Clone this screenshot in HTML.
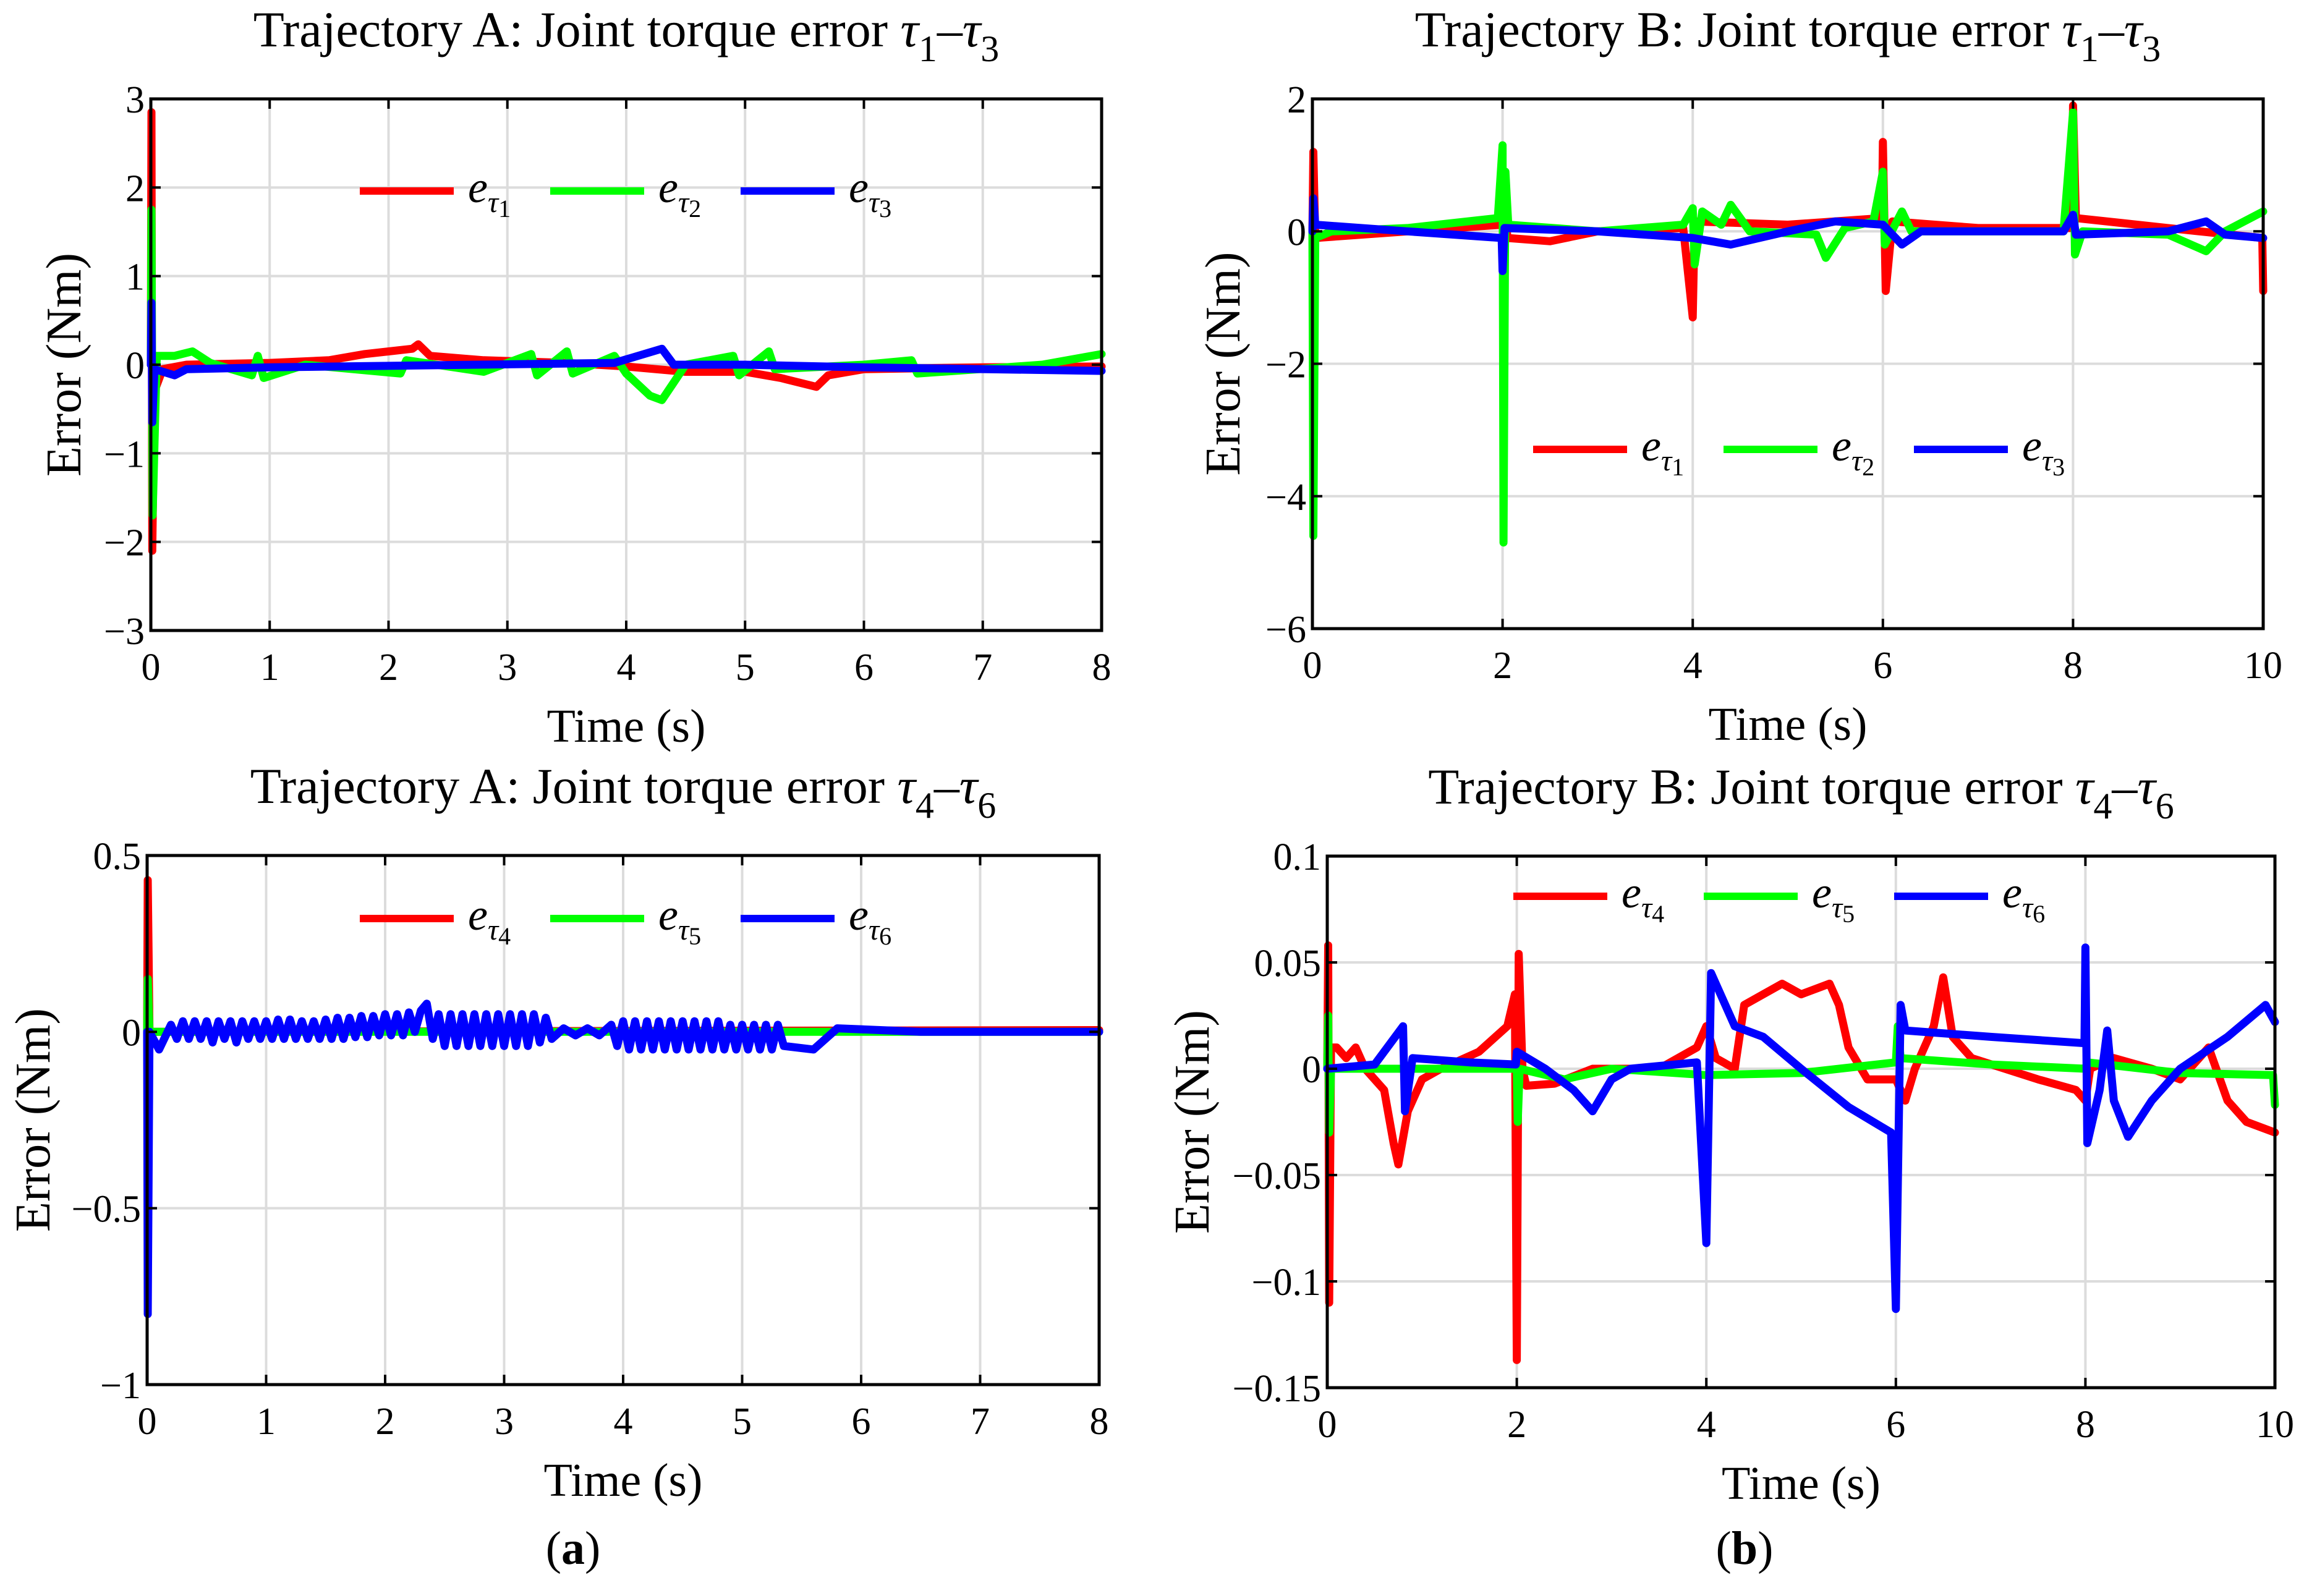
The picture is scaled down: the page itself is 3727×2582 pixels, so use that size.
<!DOCTYPE html>
<html><head><meta charset="utf-8"><style>
html,body{margin:0;padding:0;background:#fff;}
svg{display:block;font-family:"Liberation Serif",serif;}
</style></head><body>
<svg id="fig" width="3727" height="2582" viewBox="0 0 3727 2582" xmlns="http://www.w3.org/2000/svg"></svg>
<script>
// ---- data (time, value) per series ----
const a1Red=[[0,0],[0.005,2.85],[0.012,-2.1],[0.03,-0.3],[0.1,-0.05],[0.3,0],[1,0.02],[1.5,0.05],[1.8,0.12],[2.2,0.18],[2.25,0.23],[2.35,0.1],[2.8,0.05],[3.5,0.02],[4,-0.02],[4.5,-0.08],[5,-0.08],[5.3,-0.15],[5.6,-0.25],[5.7,-0.12],[6,-0.05],[7,-0.03],[8,-0.02]];
const a1Green=[[0,0],[0.005,1.75],[0.015,-1.7],[0.05,0.1],[0.2,0.1],[0.35,0.15],[0.5,0.02],[0.85,-0.12],[0.9,0.1],[0.95,-0.15],[1.3,0],[2.1,-0.1],[2.15,0.05],[2.8,-0.08],[3.2,0.12],[3.25,-0.12],[3.5,0.15],[3.55,-0.1],[3.9,0.1],[4.0,-0.1],[4.2,-0.35],[4.3,-0.4],[4.4,-0.2],[4.5,0],[4.9,0.1],[4.95,-0.12],[5.2,0.15],[5.25,-0.05],[6,0],[6.4,0.05],[6.45,-0.1],[7.5,0],[8,0.12]];
const a1Blue=[[0,0],[0.005,0.7],[0.012,-0.65],[0.03,-0.05],[0.2,-0.12],[0.3,-0.05],[1,-0.03],[3.9,0.02],[4.3,0.18],[4.4,0.0],[5,0.0],[6,-0.03],[8,-0.07]];
const b1Red=[[0,0],[0.01,1.2],[0.03,-0.1],[1,0],[2,0.1],[2.02,0.6],[2.05,-0.1],[2.5,-0.15],[3,0],[3.9,0.05],[4.0,-1.3],[4.02,0.15],[5,0.1],[5.99,0.2],[6.0,1.35],[6.03,-0.9],[6.1,0.15],[7,0.05],[7.99,0.05],[8.0,1.9],[8.03,0.2],[9,0.05],[9.99,-0.1],[10,-0.9]];
const b1Green=[[0,0],[0.01,-4.6],[0.03,-0.1],[0.2,0],[1,0.05],[1.95,0.2],[2.0,1.3],[2.01,-4.7],[2.03,0.9],[2.06,0.1],[3,0],[3.9,0.1],[4.0,0.35],[4.02,-0.5],[4.1,0.3],[4.3,0.1],[4.4,0.4],[4.6,0],[5.3,-0.05],[5.4,-0.4],[5.6,0.05],[5.9,0.15],[6.0,0.9],[6.02,-0.2],[6.2,0.3],[6.3,0],[7.9,0],[8.0,1.8],[8.02,-0.35],[8.1,0],[9,-0.05],[9.4,-0.3],[9.6,0],[10,0.3]];
const b1Blue=[[0,0],[0.01,0.5],[0.03,0.1],[1,0],[1.99,-0.1],[2.0,-0.6],[2.02,0.05],[3,0],[4,-0.1],[4.4,-0.2],[5,0],[5.5,0.15],[6,0.1],[6.2,-0.2],[6.4,0],[7.9,0],[8.0,0.25],[8.03,-0.05],[9,0],[9.4,0.15],[9.6,-0.05],[10,-0.1]];
const a2Red=[[0,0],[0.005,0.43],[0.02,0],[8,0.005]];
const a2Green=[[0,0],[0.005,0.15],[0.02,0],[8,0]];
const a2Blue=[[0,0],[0.005,-0.8],[0.02,0],[0.1,-0.05],[0.2,0.02],[0.25,-0.02],[0.3,0.03],[0.35,-0.02],[0.4,0.03],[0.45,-0.02],[0.5,0.03],[0.55,-0.03],[0.6,0.03],[0.65,-0.02],[0.7,0.03],[0.75,-0.03],[0.8,0.03],[0.85,-0.02],[0.9,0.03],[0.95,-0.02],[1.0,0.03],[1.05,-0.02],[1.1,0.035],[1.15,-0.02],[1.2,0.035],[1.25,-0.02],[1.3,0.03],[1.35,-0.02],[1.4,0.03],[1.45,-0.02],[1.5,0.035],[1.55,-0.02],[1.6,0.04],[1.65,-0.02],[1.7,0.04],[1.75,-0.015],[1.8,0.045],[1.85,-0.015],[1.9,0.045],[1.95,-0.01],[2.0,0.05],[2.05,-0.01],[2.1,0.05],[2.15,-0.01],[2.2,0.055],[2.25,0.0],[2.3,0.06],[2.35,0.08],[2.4,-0.02],[2.45,0.05],[2.5,-0.04],[2.55,0.05],[2.6,-0.04],[2.65,0.05],[2.7,-0.04],[2.75,0.05],[2.8,-0.04],[2.85,0.05],[2.9,-0.04],[2.95,0.05],[3.0,-0.04],[3.05,0.05],[3.1,-0.04],[3.15,0.05],[3.2,-0.04],[3.25,0.05],[3.3,-0.03],[3.35,0.04],[3.4,-0.02],[3.5,0.01],[3.6,-0.01],[3.7,0.01],[3.8,-0.01],[3.9,0.02],[3.95,-0.04],[4.0,0.03],[4.05,-0.05],[4.1,0.03],[4.15,-0.05],[4.2,0.03],[4.25,-0.05],[4.3,0.03],[4.35,-0.05],[4.4,0.03],[4.45,-0.05],[4.5,0.03],[4.55,-0.05],[4.6,0.03],[4.65,-0.05],[4.7,0.03],[4.75,-0.05],[4.8,0.03],[4.85,-0.05],[4.9,0.02],[4.95,-0.05],[5.0,0.02],[5.05,-0.05],[5.1,0.02],[5.15,-0.05],[5.2,0.02],[5.25,-0.05],[5.3,0.02],[5.35,-0.04],[5.6,-0.05],[5.8,0.01],[6.5,0],[8,0]];
const b2Red=[[0,0],[0.01,0.058],[0.02,-0.11],[0.04,0.01],[0.1,0.01],[0.2,0.005],[0.3,0.01],[0.4,0.0],[0.6,-0.01],[0.7,-0.035],[0.75,-0.045],[0.85,-0.02],[1,-0.005],[1.2,0],[1.6,0.008],[1.9,0.02],[1.98,0.035],[2.0,-0.137],[2.02,0.054],[2.06,0],[2.1,-0.008],[2.4,-0.007],[2.8,0],[3.5,0],[3.9,0.01],[4.0,0.02],[4.1,0.005],[4.3,0.0],[4.4,0.03],[4.6,0.035],[4.8,0.04],[5,0.035],[5.3,0.04],[5.4,0.03],[5.5,0.01],[5.7,-0.005],[6,-0.005],[6.1,-0.015],[6.2,0.0],[6.4,0.02],[6.5,0.043],[6.6,0.015],[6.8,0.005],[7.5,-0.005],[7.9,-0.01],[8.0,-0.015],[8.05,0],[8.3,0.005],[8.7,0.0],[9,-0.005],[9.3,0.01],[9.5,-0.015],[9.7,-0.025],[10,-0.03]];
const b2Green=[[0,0],[0.01,0.025],[0.02,-0.03],[0.04,0],[2,0],[2.01,-0.025],[2.03,0],[2.5,-0.005],[3,0],[4,-0.003],[5,-0.002],[6,0.003],[6.02,0.02],[6.05,0.005],[7,0.002],[8,0],[8.02,0.003],[9,-0.002],[9.98,-0.003],[10,-0.017]];
const b2Blue=[[0,0],[0.5,0.002],[0.8,0.02],[0.82,-0.02],[0.9,0.005],[1.5,0.003],[1.99,0.002],[2.0,0.008],[2.3,0.0],[2.6,-0.01],[2.8,-0.02],[3,-0.005],[3.2,0],[3.9,0.003],[4.0,-0.082],[4.05,0.045],[4.1,0.04],[4.3,0.02],[4.6,0.015],[5,0],[5.5,-0.018],[5.95,-0.03],[6.0,-0.113],[6.05,0.03],[6.1,0.018],[7,0.015],[7.99,0.012],[8.0,0.057],[8.02,-0.035],[8.15,-0.01],[8.23,0.018],[8.3,-0.015],[8.45,-0.032],[8.7,-0.015],[9,0],[9.5,0.015],[9.9,0.03],[10,0.022]];
const a1YTicks=[-3,-2,-1,0,1,2,3];
const b1YTicks=[-6,-4,-2,0,2];
const a2YTicks=[-1,-0.5,0,0.5];
const b2YTicks=[-0.15,-0.1,-0.05,0,0.05,0.1];
const xTicks8=[0,1,2,3,4,5,6,7,8];
const xTicks10=[0,2,4,6,8,10];

const NS="http://www.w3.org/2000/svg";
const svg=document.getElementById('fig');
function mk(tag,attrs,parent){const e=document.createElementNS(NS,tag);for(const k in attrs)e.setAttribute(k,attrs[k]);(parent||svg).appendChild(e);return e;}
const COLORS=['#ff0000','#00ff00','#0000ff'];
function fmt(v){return v<0?'\u2212'+String(-v):String(v);}

function panel(p){
  const g=mk('g',{});
  
  
  const sx=v=>p.L+(v-p.x0)/(p.x1-p.x0)*(p.R-p.L);
  const sy=v=>p.B-(v-p.y0)/(p.y1-p.y0)*(p.B-p.T);
  p.xt.forEach(t=>{const l=mk('line',{x1:sx(t),x2:sx(t),y1:p.T,y2:p.B,stroke:'#dcdcdc','stroke-width':4},g);
    });
  p.yt.forEach(t=>{const l=mk('line',{x1:p.L,x2:p.R,y1:sy(t),y2:sy(t),stroke:'#dcdcdc','stroke-width':4},g);
    });
  p.series.forEach((s,i)=>{
    const d=s.map((pt,j)=>(j?'L':'M')+sx(pt[0]).toFixed(1)+' '+sy(pt[1]).toFixed(1)).join('');
    const path=mk('path',{d:d,fill:'none',stroke:COLORS[i],'stroke-width':13,'stroke-linejoin':'round','stroke-linecap':'round'},g);
    
    
  });
  const box=mk('rect',{x:p.L,y:p.T,width:p.R-p.L,height:p.B-p.T,fill:'none',stroke:'#000','stroke-width':5},g);
  
  p.xt.forEach(t=>{
    mk('line',{x1:sx(t),x2:sx(t),y1:p.B,y2:p.B-16,stroke:'#000','stroke-width':4},g);
    mk('line',{x1:sx(t),x2:sx(t),y1:p.T,y2:p.T+16,stroke:'#000','stroke-width':4},g);
    const tx=mk('text',{x:sx(t),y:p.B+80,'text-anchor':'middle','font-size':62},g);
    tx.textContent=fmt(t);
  });
  p.yt.forEach(t=>{
    mk('line',{x1:p.L,x2:p.L+16,y1:sy(t),y2:sy(t),stroke:'#000','stroke-width':4},g);
    mk('line',{x1:p.R,x2:p.R-16,y1:sy(t),y2:sy(t),stroke:'#000','stroke-width':4},g);
    const tx=mk('text',{x:p.L-10,y:sy(t)+22,'text-anchor':'end','font-size':62},g);
    tx.textContent=fmt(t);
  });
  const xl=mk('text',{x:(p.L+p.R)/2,y:p.B+180,'text-anchor':'middle','font-size':76},g);
  xl.textContent='Time (s)';
  const yl=mk('text',{x:0,y:0,'text-anchor':'middle','font-size':80,transform:`translate(${p.yLabX},${(p.T+p.B)/2}) rotate(-90)`},g);
  yl.textContent='Error (Nm)';
  const tt=mk('text',{x:(p.L+p.R)/2,y:p.T-85,'text-anchor':'middle','font-size':82},g);
  
  tt.innerHTML=`${p.traj}: Joint torque error <tspan font-style="italic">τ</tspan><tspan font-size="60" dy="24">${p.sub[0]}</tspan><tspan dy="-24">–</tspan><tspan font-style="italic">τ</tspan><tspan font-size="60" dy="24">${p.sub[2]}</tspan>`;
  p.series.forEach((s,i)=>{
    const lx=p.legX+i*308, ly=p.legY;
    const lg=mk('g',{},g);
    
    
    mk('line',{x1:lx,x2:lx+152,y1:ly,y2:ly,stroke:COLORS[i],'stroke-width':12},lg);
    const t=mk('text',{x:lx+175,y:ly+18,'font-size':72,'font-style':'italic'},lg);
    t.innerHTML=`e<tspan font-size="48" dy="16">τ</tspan><tspan font-size="40" dy="8" font-style="normal">${p.sub[i]}</tspan>`;
  });
}

panel({name:'plot-a-tau1-3',traj:'Trajectory A',sub:['1','2','3'],L:244,R:1782,T:160,B:1020,x0:0,x1:8,y0:-3,y1:3,xt:xTicks8,yt:a1YTicks,series:[a1Red,a1Green,a1Blue],legX:582,legY:309,yLabX:130});
panel({name:'plot-b-tau1-3',traj:'Trajectory B',sub:['1','2','3'],L:2123,R:3661,T:160,B:1017,x0:0,x1:10,y0:-6,y1:2,xt:xTicks10,yt:b1YTicks,series:[b1Red,b1Green,b1Blue],legX:2480,legY:727,yLabX:2005});
panel({name:'plot-a-tau4-6',traj:'Trajectory A',sub:['4','5','6'],L:238,R:1778,T:1384,B:2240,x0:0,x1:8,y0:-1,y1:0.5,xt:xTicks8,yt:a2YTicks,series:[a2Red,a2Green,a2Blue],legX:582,legY:1486,yLabX:80});
panel({name:'plot-b-tau4-6',traj:'Trajectory B',sub:['4','5','6'],L:2147,R:3680,T:1385,B:2245,x0:0,x1:10,y0:-0.15,y1:0.1,xt:xTicks10,yt:b2YTicks,series:[b2Red,b2Green,b2Blue],legX:2448,legY:1450,yLabX:1955});

const la=mk('text',{x:927,y:2530,'text-anchor':'middle','font-size':76});
la.innerHTML='(<tspan font-weight="bold">a</tspan>)';

const lb=mk('text',{x:2822,y:2530,'text-anchor':'middle','font-size':76});
lb.innerHTML='(<tspan font-weight="bold">b</tspan>)';

</script>
</body></html>
